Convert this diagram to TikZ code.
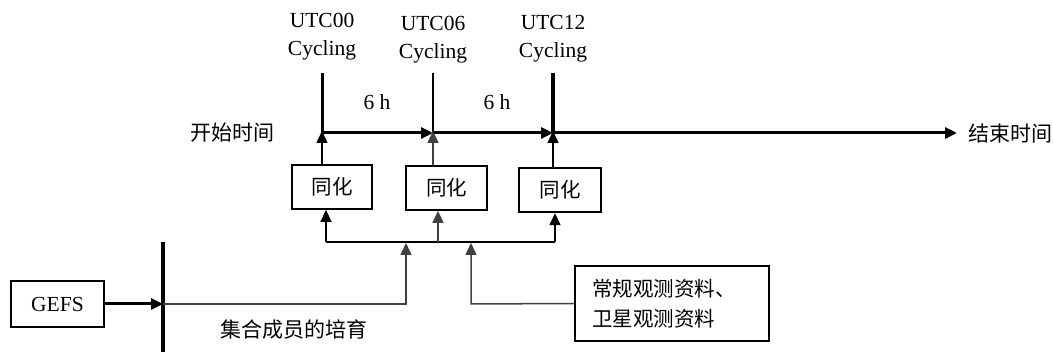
\documentclass[tikz,border=0pt]{standalone}
\usepackage{fontspec}
\setmainfont{Liberation Serif}
\newfontfamily\cjk{Noto Sans CJK SC}
\usetikzlibrary{arrows.meta}
\begin{document}
\begin{tikzpicture}[x=1pt,y=-1pt,
  every node/.style={font=\fontsize{21.5}{25}\selectfont, inner sep=0pt},
  cn/.style={font=\fontsize{21}{25}\selectfont\cjk},
  thick3/.style={line width=3pt},
  thin1/.style={line width=1.5pt, draw=black!75},
  tip/.style={-{Triangle[length=12pt,width=11pt]}},
  boxs/.style={draw, line width=1.8pt, minimum height=44pt, font=\fontsize{20.5}{25}\selectfont\cjk}]
\useasboundingbox (0,0) rectangle (1053,352);
% timeline coordinates
\coordinate (t0) at (322,133);
\coordinate (t1) at (433,133);
\coordinate (t2) at (553,133);
\coordinate (tend) at (957,133);
\coordinate (t0top) at (322,73);
\coordinate (t1top) at (433,73);
\coordinate (t2top) at (553,73);
% labels
\node (u0) at (322,20) {UTC00};
\node (c0) at (322,50) {Cycling};
\node (u1) at (433,23) {UTC06};
\node (c1) at (433,53) {Cycling};
\node (u2) at (553,22) {UTC12};
\node (c2) at (553,52) {Cycling};
\node (h6a) at (377,102) {6 h};
\node (h6b) at (497,102) {6 h};
\node[cn] (start) at (232,133) {开始时间};
\node[cn] (end) at (1010,134) {结束时间};
% ticks
\draw[thick3] (t0top) -- (t0);
\draw[line width=2.2pt] (t1top) -- (t1);
\draw[line width=3.4pt] (t2top) -- (t2);
% timeline arrows
\draw[thick3, tip] (t0) -- (t1);
\draw[thick3, tip] (t1) -- (t2);
\draw[thick3, tip] (t2) -- (tend);
% assimilation boxes
\node[boxs, minimum width=80pt] (b1) at (332,187) {同化};
\node[boxs, minimum width=81pt] (b2) at (446.5,188) {同化};
\node[boxs, minimum width=82pt, line width=2.4pt] (b3) at (560,190) {同化};
% arrows from boxes to timeline
\draw[line width=1.5pt, tip] (b1.north -| t0) -- ([yshift=2pt]t0);
\draw[thin1, tip] (b2.north -| t1) -- ([yshift=2pt]t1);
\draw[line width=1.5pt, tip] (b3.north -| t2) -- ([yshift=2pt]t2);
% distribution line under boxes
\coordinate (h1) at (326,242);
\coordinate (h2) at (438,242);
\coordinate (h3) at (555,242);
\draw[line width=1.5pt] (h1) -- (h3);
\draw[line width=1.5pt, tip] (h1) -- (h1 |- b1.south);
\draw[thin1, tip] (h2) -- (h2 |- b2.south);
\draw[line width=1.5pt, tip] (h3) -- (h3 |- b3.south);
% GEFS and bar
\node[draw, line width=1.8pt, minimum width=93pt, minimum height=46pt] (gefs) at (57.5,304) {GEFS};
\coordinate (bartop) at (163,242);
\coordinate (barbot) at (163,352);
\coordinate (barmid) at (163,304);
\draw[line width=3.2pt] (bartop) -- (barbot);
\draw[line width=3pt, tip] (gefs.east) -- (barmid);
% member cultivation feed
\coordinate (f1) at (406,304);
\coordinate (f1top) at (406,243);
\draw[thin1, tip] (barmid) -- (f1) -- (f1top);
\node[cn] (member) at (294,330) {集合成员的培育};
% observations
\node[draw, line width=1.8pt, minimum height=75pt, text width=160pt, inner xsep=17pt, align=left, font=\fontsize{20.5}{30}\selectfont\cjk] (obs) at (672,303.5) {常规观测资料、\\卫星观测资料};
\coordinate (f2) at (471,304);
\coordinate (f2top) at (471,243);
\draw[thin1, tip] (obs.west) -- (f2) -- (f2top);
\end{tikzpicture}
\end{document}
